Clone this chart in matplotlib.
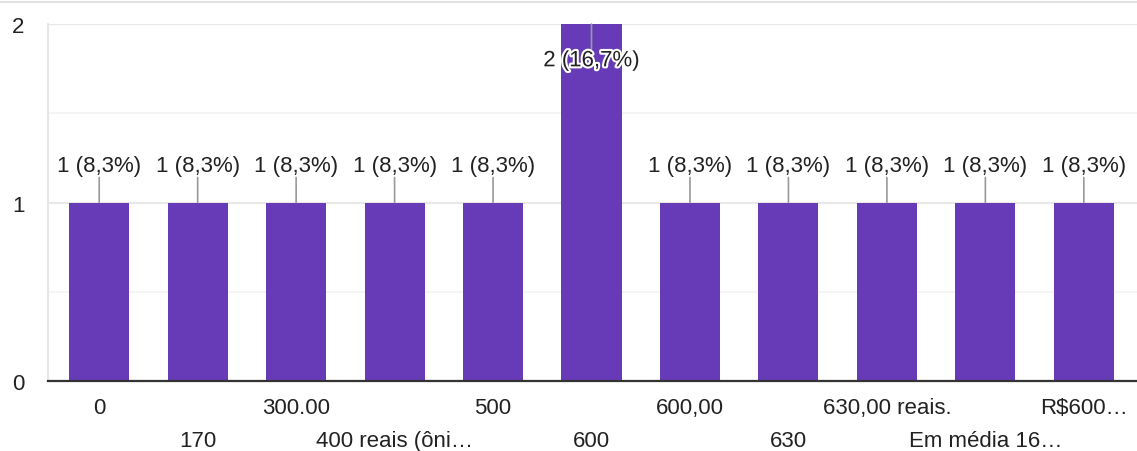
import matplotlib.pyplot as plt
import matplotlib.patheffects as pe
from matplotlib.lines import Line2D

plt.rcParams['font.family'] = ['Liberation Sans', 'DejaVu Sans']

categories = ["0", "170", "300.00", "400 reais (ôni…", "500", "600",
              "600,00", "630", "630,00 reais.", "Em média 16…", "R$600…"]
counts = [1, 1, 1, 1, 1, 2, 1, 1, 1, 1, 1]
total = 12
purple = '#673ab7'
txt = '#222222'
fs = 16

fig = plt.figure(figsize=(11.37, 4.52), dpi=100)
ax = fig.add_axes([48/1137, 70/452, 1 - 48/1137, (382-25)/452])

x = list(range(len(categories)))
ax.bar(x, counts, width=0.61, color=purple, zorder=3)

ax.set_xlim(-0.52, 10.54)
ax.set_ylim(0, 2)
ax.set_yticks([0, 1, 2])
ax.set_yticks([0.5, 1.5], minor=True)
ax.grid(axis='y', which='major', color='#e8e8e8', lw=1.6, zorder=0)
ax.grid(axis='y', which='minor', color='#f3f3f3', lw=1.2, zorder=0)
ax.tick_params(axis='y', which='both', length=0, pad=17, labelsize=fs, labelcolor=txt)
ax.tick_params(axis='x', length=0, labelbottom=False)

for s in ['top', 'right']:
    ax.spines[s].set_visible(False)
ax.spines['left'].set_color('#e6e6e6')
ax.spines['left'].set_linewidth(1.5)
ax.spines['bottom'].set_color('#333333')
ax.spines['bottom'].set_linewidth(1.6)
ax.spines['bottom'].set_zorder(5)

# category labels on two alternating rows
for i, lab in enumerate(categories):
    off = -19 if i % 2 == 0 else -42.5
    ax.annotate(lab, (i, 0), xytext=(0, off), textcoords='offset points',
                ha='center', va='center', fontsize=fs, color=txt,
                annotation_clip=False)

# value labels with leader lines
for i, c in enumerate(counts):
    lab = f"{c} ({c / total * 100:.1f}%)".replace('.', ',')
    sign = -1 if c == max(counts) else 1
    ax.annotate('', (i, c), xytext=(0, 18 * sign), textcoords='offset points',
                arrowprops=dict(arrowstyle='-', color='#999999', lw=1.2,
                                shrinkA=0, shrinkB=0), zorder=4)
    t = ax.annotate(lab, (i, c), xytext=(0, 26.5 * sign), textcoords='offset points',
                    ha='center', va='center', fontsize=fs, color=txt, zorder=6)
    if sign < 0:
        t.set_path_effects([pe.withStroke(linewidth=3, foreground='white')])

fig.add_artist(Line2D([0, 1], [1 - 3/452, 1 - 3/452], color='#e0e0e0', lw=1.5,
                      transform=fig.transFigure))

fig.savefig('out.png', dpi=100)
